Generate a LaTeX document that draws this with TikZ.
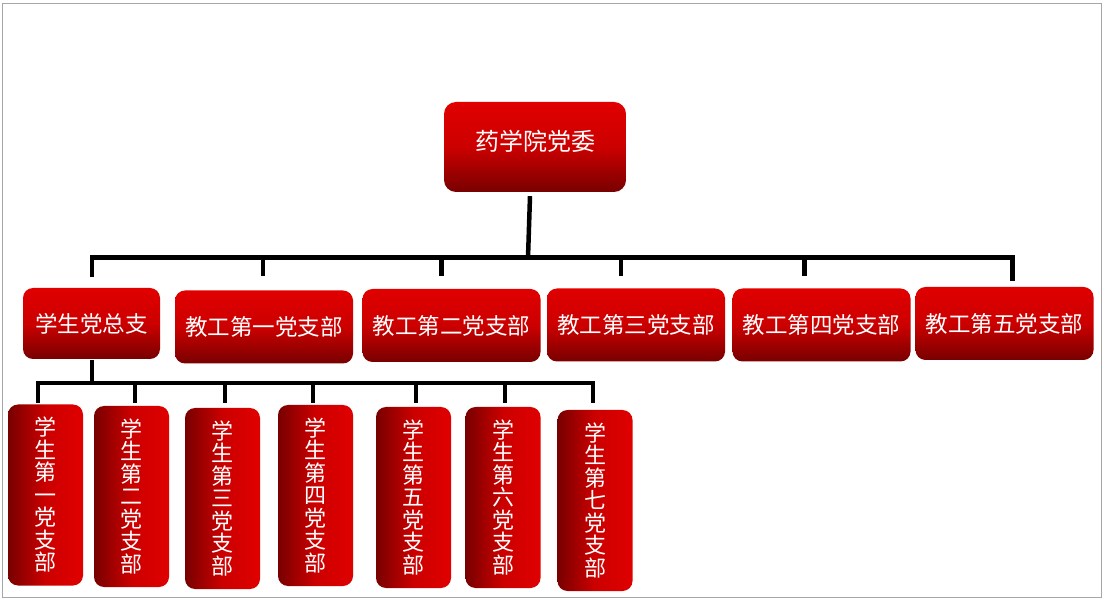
\documentclass[tikz,border=0pt]{standalone}
\usepackage{fontspec}
\newfontfamily\cjk{Noto Sans CJK SC}
\usetikzlibrary{calc}
\definecolor{hired}{RGB}{224,0,0}
\definecolor{midred}{RGB}{204,0,0}
\definecolor{lored}{RGB}{120,0,0}

\begin{document}
\begin{tikzpicture}[
  x=1pt,y=1pt,
  font=\cjk\fontsize{22.5}{22.5}\selectfont,
  box/.style={rounded corners=10pt,inner sep=0pt,text=white,align=center},
  head/.style={box,top color=hired,bottom color=lored,middle color=midred,minimum width=182pt,minimum height=90pt,rounded corners=12pt,font=\cjk\fontsize{24}{24}\selectfont,text depth=13pt},
  branch/.style={box,top color=hired,bottom color=lored,middle color=midred,minimum width=178pt,minimum height=73pt},
  cell/.style={box,left color=lored,right color=hired,middle color=midred,minimum width=75pt,minimum height=181pt,font=\cjk\fontsize{22}{22.5}\selectfont},
  wire/.style={line width=4.5pt,line join=miter},
]
  \useasboundingbox (0,0) rectangle (1105,600);
  \draw[gray!70,line width=1pt] (2,3) rectangle (1101,596);

  % top
  \node[head] (root) at (535,453) {药学院党委};

  % second row
  \node[branch,minimum width=137pt,minimum height=71pt] (s0) at (91.5,276.5) {学生党总支};
  \node[branch] (t1) at (264,273) {教工第一党支部};
  \node[branch] (t2) at (451.5,274.5) {教工第二党支部};
  \node[branch] (t3) at (636,275) {教工第三党支部};
  \node[branch] (t4) at (821.5,275) {教工第四党支部};
  \node[branch] (t5) at (1004.5,276.5) {教工第五党支部};

  % third row
  \node[cell] (u1) at (45.5,105) {学\\生\\第\\一\\党\\支\\部};
  \node[cell] (u2) at (131.5,103.5) {学\\生\\第\\二\\党\\支\\部};
  \node[cell] (u3) at (222.5,101.5) {学\\生\\第\\三\\党\\支\\部};
  \node[cell] (u4) at (315.5,104.5) {学\\生\\第\\四\\党\\支\\部};
  \node[cell] (u5) at (413.5,102.5) {学\\生\\第\\五\\党\\支\\部};
  \node[cell] (u6) at (503,102.5) {学\\生\\第\\六\\党\\支\\部};
  \node[cell] (u7) at (595,99.5) {学\\生\\第\\七\\党\\支\\部};

  % links to second row
  \coordinate (bus1) at (529,342.5);
  \draw[wire] (root.south) ++(-5,-4) -- ++(-2,-61.5);
  \draw[wire] ($(bus1 -| s0.north)+(0.5,-20)$) |- ($(bus1 -| t5.north)+(8,0)$) -- ++(0,-24);
  \foreach \n/\dx in {t1/-1,t2/-10,t3/-15,t4/-17}
    \draw[wire] ($(bus1 -| \n.north)+(\dx,0)$) -- ++(0,-19);

  % links to third row
  \coordinate (bus2) at (92,217);
  \draw[wire] (s0.south) ++(0.5,-1) -- (bus2);
  \draw[wire] ($(bus2 -| u1.north)+(-7.5,-20)$) |- ($(bus2 -| u7.north)+(-2,0)$) -- ++(0,-20);
  \foreach \n/\dx in {u2/3.5,u3/2.5,u4/-2.5,u5/2.5,u6/2}
    \draw[wire] ($(bus2 -| \n.north)+(\dx,0)$) -- ++(0,-20);
\end{tikzpicture}
\end{document}
